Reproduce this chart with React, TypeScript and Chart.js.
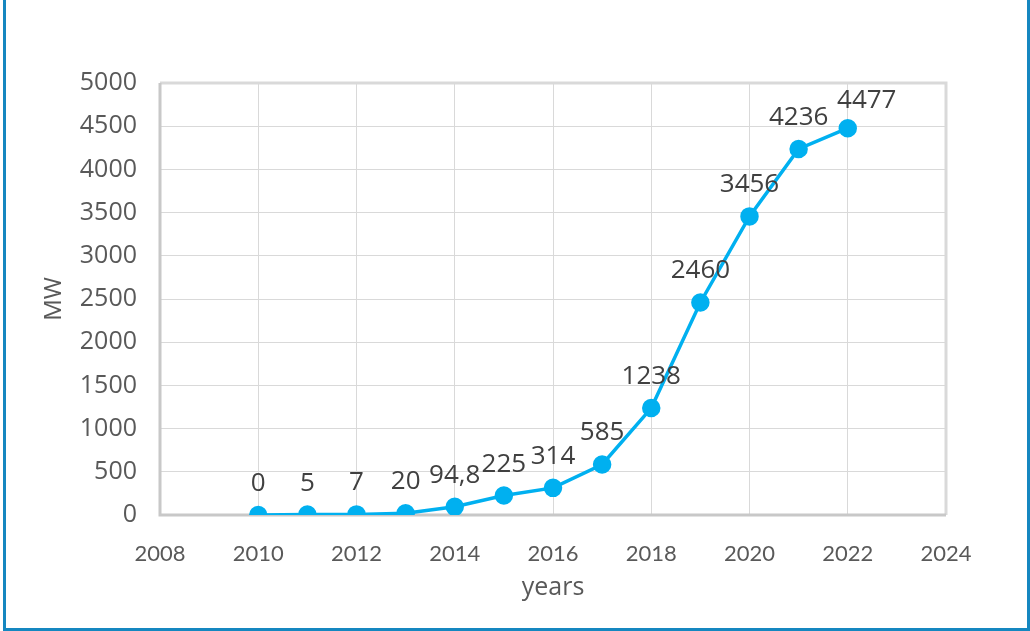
import React, { useEffect, useRef } from "react";
import { Chart, registerables } from "chart.js";

Chart.register(...registerables);

const years = [2010, 2011, 2012, 2013, 2014, 2015, 2016, 2017, 2018, 2019, 2020, 2021, 2022];
const capacityMW = [0, 5, 7, 20, 94.8, 225, 314, 585, 1238, 2460, 3456, 4236, 4477];
const valueLabels = ["0", "5", "7", "20", "94,8", "225", "314", "585", "1238", "2460", "3456", "4236", "4477"];
const xTickLabels = ["2008", "2010", "2012", "2014", "2016", "2018", "2020", "2022", "2024"];
const yTickLabels = ["0", "500", "1000", "1500", "2000", "2500", "3000", "3500", "4000", "4500", "5000"];

const LINE_COLOR = "#00B0F0";
const TEXT_DARK = "#404040";
const TEXT_GREY = "#595959";

const plotBorderPlugin = {
  id: "plotBorder",
  beforeDatasetsDraw(chart: any) {
    const { ctx, chartArea } = chart;
    const { left, right, top, bottom } = chartArea;
    ctx.save();
    ctx.lineWidth = 3;
    ctx.strokeStyle = "#d9d9d9";
    ctx.beginPath();
    ctx.moveTo(left, top);
    ctx.lineTo(right, top);
    ctx.lineTo(right, bottom);
    ctx.stroke();
    ctx.strokeStyle = "#c8c8c8";
    ctx.beginPath();
    ctx.moveTo(left, top);
    ctx.lineTo(left, bottom);
    ctx.lineTo(right, bottom);
    ctx.stroke();
    ctx.restore();
  },
};

const dataLabelPlugin = {
  id: "dataLabels",
  afterDatasetsDraw(chart: any) {
    const { ctx } = chart;
    const meta = chart.getDatasetMeta(0);
    ctx.save();
    ctx.font = "26px 'Open Sans'";
    ctx.fillStyle = TEXT_DARK;
    ctx.textAlign = "center";
    ctx.textBaseline = "alphabetic";
    meta.data.forEach((pt: any, i: number) => {
      const isLast = i === meta.data.length - 1;
      const dx = isLast ? 19 : 0;
      const dy = isLast ? 20 : 24;
      ctx.fillText(valueLabels[i], pt.x + dx, pt.y - dy);
    });
    ctx.restore();
  },
};

export default function App() {
  const canvasRef = useRef<HTMLCanvasElement | null>(null);

  useEffect(() => {
    if (!canvasRef.current) return;
    const chart = new Chart(canvasRef.current, {
      type: "line",
      data: {
        datasets: [
          {
            label: "MW",
            data: years.map((y, i) => ({ x: y, y: capacityMW[i] })),
            borderColor: LINE_COLOR,
            backgroundColor: LINE_COLOR,
            borderWidth: 3.5,
            pointRadius: 7.5,
            pointHoverRadius: 7.5,
            pointBackgroundColor: LINE_COLOR,
            pointBorderColor: LINE_COLOR,
            tension: 0,
          },
        ],
      },
      options: {
        animation: false,
        responsive: false,
        maintainAspectRatio: false,
        layout: { padding: { left: 0, right: 84, top: 83, bottom: 0 } },
        plugins: {
          legend: { display: false },
          tooltip: { enabled: false },
        },
        scales: {
          x: {
            type: "linear",
            min: 2008,
            max: 2024,
            afterBuildTicks: (scale: any) => {
              scale.ticks = xTickLabels.map((t) => ({ value: Number(t) }));
            },
            afterFit: (scale: any) => {
              scale.height = 116;
            },
            ticks: {
              padding: 26,
              color: TEXT_GREY,
              font: { family: "Lato", size: 22 },
              callback: (v: any) => String(v),
              maxRotation: 0,
              autoSkip: false,
            },
            grid: { color: "#d9d9d9", lineWidth: 1, drawTicks: false },
            border: { display: false },
            title: {
              display: true,
              text: "years",
              color: TEXT_GREY,
              font: { family: "'Open Sans'", size: 25 },
              padding: { top: 0, bottom: 28 },
            },
          },
          y: {
            type: "linear",
            min: 0,
            max: 5000,
            afterBuildTicks: (scale: any) => {
              scale.ticks = yTickLabels.map((t) => ({ value: Number(t) }));
            },
            afterFit: (scale: any) => {
              scale.width = 160;
            },
            ticks: {
              padding: 23,
              color: TEXT_GREY,
              font: { family: "'Open Sans'", size: 25 },
              callback: (v: any) => String(v),
            },
            grid: { color: "#d9d9d9", lineWidth: 1, drawTicks: false },
            border: { display: false },
            title: {
              display: true,
              text: "MW",
              color: TEXT_GREY,
              font: { family: "'Open Sans'", size: 24 },
              padding: { top: 40, bottom: 0 },
            },
          },
        },
      },
      plugins: [plotBorderPlugin, dataLabelPlugin],
    });
    return () => chart.destroy();
  }, []);

  return (
    <div
      style={{
        position: "fixed",
        left: 0,
        top: 0,
        width: 1030,
        height: 631,
        background: "#ffffff",
        overflow: "hidden",
      }}
    >
      <div
        style={{
          position: "absolute",
          left: 3,
          top: -4,
          width: 1027,
          height: 635,
          boxSizing: "border-box",
          border: "3px solid #1587c0",
        }}
      />
      <canvas
        ref={canvasRef}
        width={1030}
        height={631}
        style={{ position: "absolute", left: 0, top: 0, width: 1030, height: 631 }}
      />
    </div>
  );
}
